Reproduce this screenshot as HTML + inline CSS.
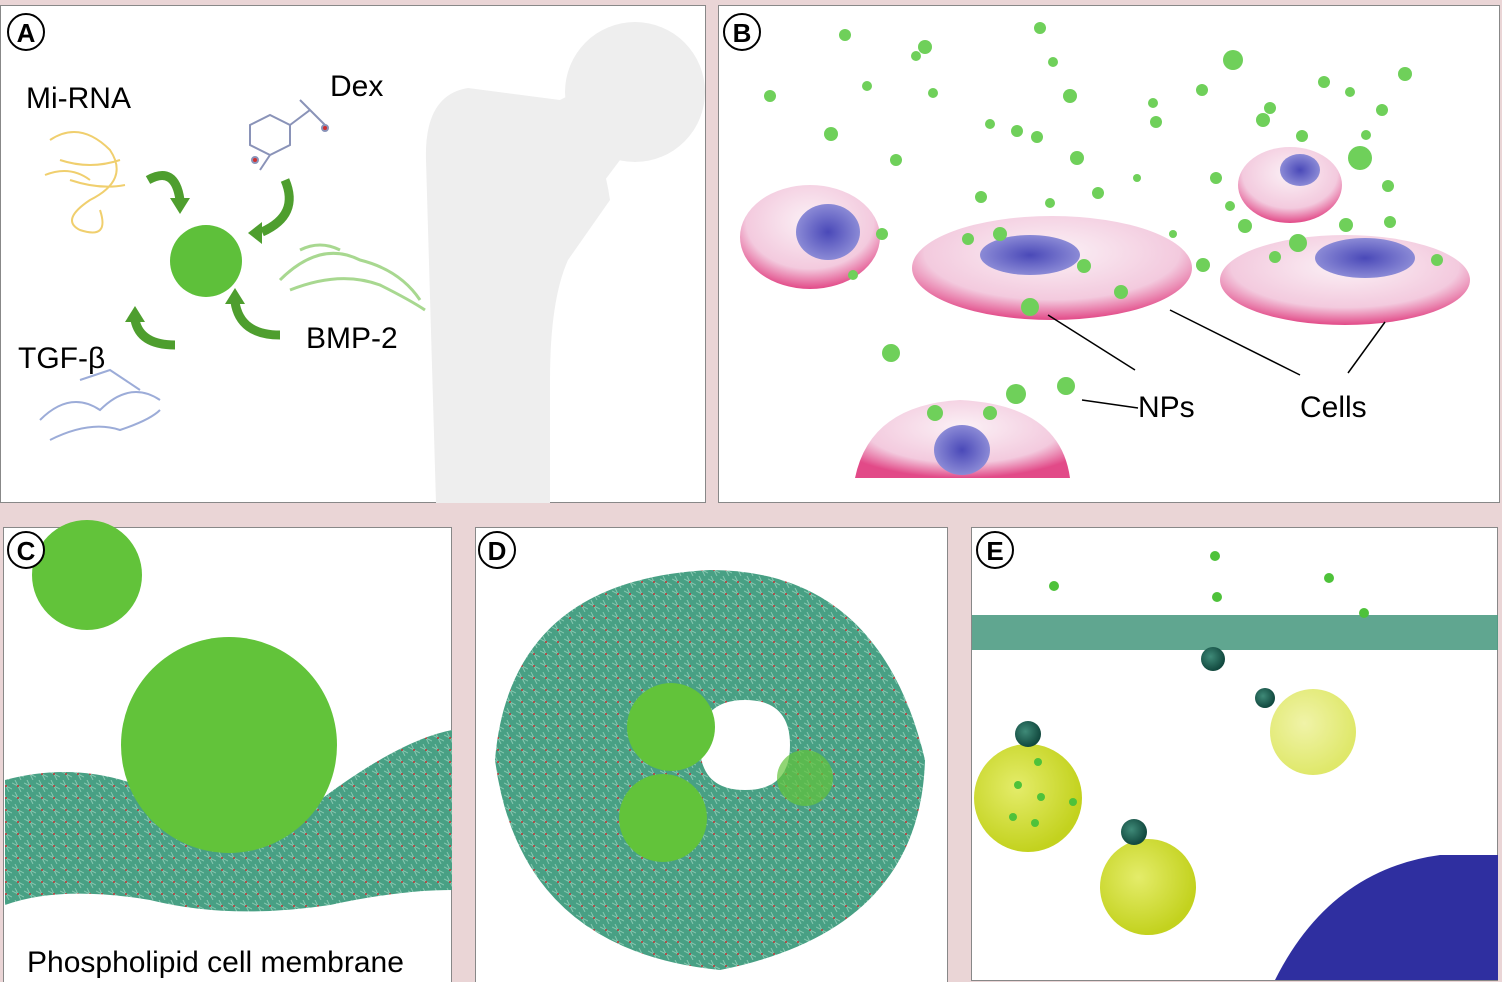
<!DOCTYPE html>
<html><head><meta charset="utf-8">
<style>
html,body{margin:0;padding:0;background:#ead5d6;}
svg{display:block;font-family:"Liberation Sans",sans-serif;}
</style></head>
<body>
<svg width="1502" height="982" viewBox="0 0 1502 982">
<defs>
<radialGradient id="cellg" cx="50%" cy="35%" r="65%"><stop offset="0" stop-color="#fbf1f6"/><stop offset="0.7" stop-color="#f3cade"/><stop offset="1" stop-color="#e24a88"/></radialGradient>
<radialGradient id="nucg" cx="50%" cy="50%" r="50%"><stop offset="0" stop-color="#4a49b8"/><stop offset="1" stop-color="#8b8ad6"/></radialGradient>
<radialGradient id="yel" cx="40%" cy="40%" r="60%"><stop offset="0" stop-color="#e4ec6a"/><stop offset="1" stop-color="#c3d21e"/></radialGradient>
<radialGradient id="yel2" cx="40%" cy="40%" r="60%"><stop offset="0" stop-color="#f0f3a8"/><stop offset="1" stop-color="#dfe86a"/></radialGradient>
<radialGradient id="dk" cx="40%" cy="40%" r="60%"><stop offset="0" stop-color="#3f8a78"/><stop offset="1" stop-color="#11483e"/></radialGradient>
<pattern id="lipid" width="12" height="12" patternUnits="userSpaceOnUse"><rect width="12" height="12" fill="#48a084"/><path d="M0 3 L12 9 M3 0 L9 12" stroke="#86c8b0" stroke-width="1"/><circle cx="6" cy="6" r="1" fill="#c03030"/></pattern>
</defs>

<!-- Panel A -->
<g>
<rect x="0.5" y="5.5" width="705" height="497" fill="#fff" stroke="#888"/>
<g fill="#eeeeee">
<path d="M436 503 L426 160 Q424 95 468 88 L560 100 Q600 130 610 200 L568 260 Q550 300 550 380 L550 503 Z"/>
<circle cx="635" cy="92" r="70"/>
<path d="M560 100 L600 80 L620 160 L590 200 Z"/>
</g>
<circle cx="26" cy="32" r="18" fill="#fff" stroke="#000" stroke-width="2"/>
<text x="26" y="42" font-size="26" font-weight="bold" text-anchor="middle">A</text>
<text x="26" y="108" font-size="30">Mi-RNA</text>
<text x="330" y="96" font-size="30">Dex</text>
<text x="18" y="368" font-size="30">TGF-β</text>
<text x="306" y="348" font-size="30">BMP-2</text>
<g fill="none" stroke="#f0cf6e" stroke-width="2">
<path d="M50 140 Q80 120 110 150 Q130 180 90 200 Q60 220 80 230 Q110 240 100 210 M60 160 Q90 170 120 160 M70 180 Q100 190 125 185 M45 175 Q70 165 90 180"/>
</g>
<g fill="none" stroke="#8a93b8" stroke-width="2">
<path d="M250 125 L270 115 L290 125 L290 145 L270 155 L250 145 Z M290 125 L310 110 L325 125 M270 155 L260 170 M300 100 L310 110"/>
<circle cx="325" cy="128" r="3" fill="#d03030"/><circle cx="255" cy="160" r="3" fill="#d03030"/>
</g>
<g fill="none" stroke="#a8d890" stroke-width="3">
<path d="M280 280 Q320 240 360 260 Q400 270 420 300 M290 290 Q340 270 380 285 Q410 300 425 310 M300 250 Q320 240 340 250"/>
</g>
<g fill="none" stroke="#9cacd8" stroke-width="2">
<path d="M40 420 Q70 390 100 410 Q130 380 160 400 M50 440 Q90 420 120 430 Q150 420 160 410 M80 380 L110 370 L140 390"/>
</g>
<circle cx="206" cy="261" r="36" fill="#5ec03a"/>
<g fill="none" stroke="#4e9e2e" stroke-width="9">
<path d="M148 180 Q175 165 180 200"/>
<path d="M285 180 Q300 215 262 232"/>
<path d="M175 345 Q140 345 135 320"/>
<path d="M280 335 Q240 335 235 302"/>
</g>
<g fill="#4e9e2e">
<path d="M170 198 L190 198 L180 214 Z"/><path d="M262 222 L262 244 L248 233 Z"/><path d="M125 322 L145 322 L135 306 Z"/><path d="M225 304 L245 304 L235 288 Z"/>
</g>
</g>

<!-- Panel B -->
<g>
<rect x="718.5" y="5.5" width="781" height="497" fill="#fff" stroke="#888"/>
<circle cx="742" cy="32" r="18" fill="#fff" stroke="#000" stroke-width="2"/>
<text x="742" y="42" font-size="26" font-weight="bold" text-anchor="middle">B</text>
<g>
<ellipse cx="810" cy="237" rx="70" ry="52" fill="url(#cellg)"/><ellipse cx="828" cy="232" rx="32" ry="28" fill="url(#nucg)"/>
<ellipse cx="1052" cy="268" rx="140" ry="52" fill="url(#cellg)"/><ellipse cx="1030" cy="255" rx="50" ry="20" fill="url(#nucg)"/>
<ellipse cx="1290" cy="185" rx="52" ry="38" fill="url(#cellg)"/><ellipse cx="1300" cy="170" rx="20" ry="16" fill="url(#nucg)"/>
<ellipse cx="1345" cy="280" rx="125" ry="45" fill="url(#cellg)"/><ellipse cx="1365" cy="258" rx="50" ry="20" fill="url(#nucg)"/>
<path d="M855 478 Q870 405 960 400 Q1060 405 1070 478 Z" fill="url(#cellg)"/><ellipse cx="962" cy="450" rx="28" ry="25" fill="url(#nucg)"/>
</g>
<g fill="#6fd05a">
<circle cx="845" cy="35" r="6"/><circle cx="925" cy="47" r="7"/><circle cx="916" cy="56" r="5"/><circle cx="1053" cy="62" r="5"/><circle cx="1233" cy="60" r="10"/><circle cx="1405" cy="74" r="7"/><circle cx="770" cy="96" r="6"/><circle cx="867" cy="86" r="5"/><circle cx="933" cy="93" r="5"/><circle cx="1070" cy="96" r="7"/><circle cx="1202" cy="90" r="6"/><circle cx="1324" cy="82" r="6"/><circle cx="1350" cy="92" r="5"/><circle cx="1153" cy="103" r="5"/><circle cx="1270" cy="108" r="6"/><circle cx="1382" cy="110" r="6"/><circle cx="831" cy="134" r="7"/><circle cx="990" cy="124" r="5"/><circle cx="1017" cy="131" r="6"/><circle cx="1037" cy="137" r="6"/><circle cx="1156" cy="122" r="6"/><circle cx="1263" cy="120" r="7"/><circle cx="1302" cy="136" r="6"/><circle cx="1366" cy="135" r="5"/><circle cx="896" cy="160" r="6"/><circle cx="1077" cy="158" r="7"/><circle cx="1360" cy="158" r="12"/><circle cx="1137" cy="178" r="4"/><circle cx="1216" cy="178" r="6"/><circle cx="1388" cy="186" r="6"/><circle cx="981" cy="197" r="6"/><circle cx="1098" cy="193" r="6"/><circle cx="1050" cy="203" r="5"/><circle cx="1230" cy="206" r="5"/><circle cx="1245" cy="226" r="7"/><circle cx="1346" cy="225" r="7"/><circle cx="1390" cy="222" r="6"/><circle cx="882" cy="234" r="6"/><circle cx="968" cy="239" r="6"/><circle cx="1000" cy="234" r="7"/><circle cx="1298" cy="243" r="9"/><circle cx="1084" cy="266" r="7"/><circle cx="1203" cy="265" r="7"/><circle cx="1275" cy="257" r="6"/><circle cx="1437" cy="260" r="6"/><circle cx="853" cy="275" r="5"/><circle cx="1121" cy="292" r="7"/><circle cx="1030" cy="307" r="9"/><circle cx="891" cy="353" r="9"/><circle cx="1016" cy="394" r="10"/><circle cx="1066" cy="386" r="9"/><circle cx="935" cy="413" r="8"/><circle cx="990" cy="413" r="7"/><circle cx="1173" cy="234" r="4"/><circle cx="1040" cy="28" r="6"/>
</g>
<g stroke="#000" stroke-width="1.5" fill="none">
<path d="M1135 370 L1048 315"/><path d="M1300 375 L1170 310"/><path d="M1348 373 L1385 322"/><path d="M1138 408 L1082 400"/>
</g>
<text x="1138" y="417" font-size="30">NPs</text>
<text x="1300" y="417" font-size="30">Cells</text>
</g>

<!-- Panel C -->
<g>
<rect x="3.5" y="527.5" width="448" height="455" fill="#fff" stroke="#888"/>
<path d="M5 780 Q80 760 150 790 Q230 850 320 800 Q400 740 452 730 L452 890 Q400 890 330 905 Q230 920 150 900 Q60 885 5 905 Z" fill="url(#lipid)"/>
<circle cx="229" cy="745" r="108" fill="#62c33a"/>
<circle cx="87" cy="575" r="55" fill="#62c33a"/>
<circle cx="26" cy="550" r="18" fill="#fff" stroke="#000" stroke-width="2"/>
<text x="26" y="560" font-size="26" font-weight="bold" text-anchor="middle">C</text>
<text x="27" y="972" font-size="30">Phospholipid cell membrane</text>
</g>

<!-- Panel D -->
<g>
<rect x="475.5" y="527.5" width="472" height="455" fill="#fff" stroke="#888"/>
<path fill-rule="evenodd" fill="url(#lipid)"
 d="M710 570 Q880 570 925 760 Q920 930 720 970 Q520 950 495 760 Q510 580 710 570 Z M745 700 Q790 700 790 745 Q790 790 745 790 Q700 790 700 745 Q700 700 745 700 Z"/>
<circle cx="671" cy="727" r="44" fill="#62c33a"/>
<circle cx="663" cy="818" r="44" fill="#62c33a"/>
<circle cx="805" cy="778" r="28" fill="#62c33a" opacity="0.7"/>
<circle cx="497" cy="550" r="18" fill="#fff" stroke="#000" stroke-width="2"/>
<text x="497" y="560" font-size="26" font-weight="bold" text-anchor="middle">D</text>
</g>

<!-- Panel E -->
<g>
<rect x="971.5" y="527.5" width="526" height="453" fill="#fff" stroke="#888"/>
<rect x="972" y="615" width="526" height="35" fill="#4f9c84" opacity="0.9"/>
<path d="M1275 980 Q1330 870 1440 855 L1498 855 L1498 980 Z" fill="#2f2fa0"/>
<circle cx="1028" cy="798" r="54" fill="url(#yel)"/>
<circle cx="1148" cy="887" r="48" fill="url(#yel)"/>
<circle cx="1313" cy="732" r="43" fill="url(#yel2)"/>
<g fill="url(#dk)">
<circle cx="1213" cy="659" r="12"/><circle cx="1265" cy="698" r="10"/><circle cx="1028" cy="734" r="13"/><circle cx="1134" cy="832" r="13"/>
</g>
<g fill="#4ec23a">
<circle cx="1215" cy="556" r="5"/><circle cx="1054" cy="586" r="5"/><circle cx="1217" cy="597" r="5"/><circle cx="1329" cy="578" r="5"/><circle cx="1364" cy="613" r="5"/>
<circle cx="1038" cy="762" r="4"/><circle cx="1018" cy="785" r="4"/><circle cx="1041" cy="797" r="4"/><circle cx="1073" cy="802" r="4"/><circle cx="1013" cy="817" r="4"/><circle cx="1035" cy="823" r="4"/>
</g>
<circle cx="995" cy="550" r="18" fill="#fff" stroke="#000" stroke-width="2"/>
<text x="995" y="560" font-size="26" font-weight="bold" text-anchor="middle">E</text>
</g>
</svg>
</body></html>
